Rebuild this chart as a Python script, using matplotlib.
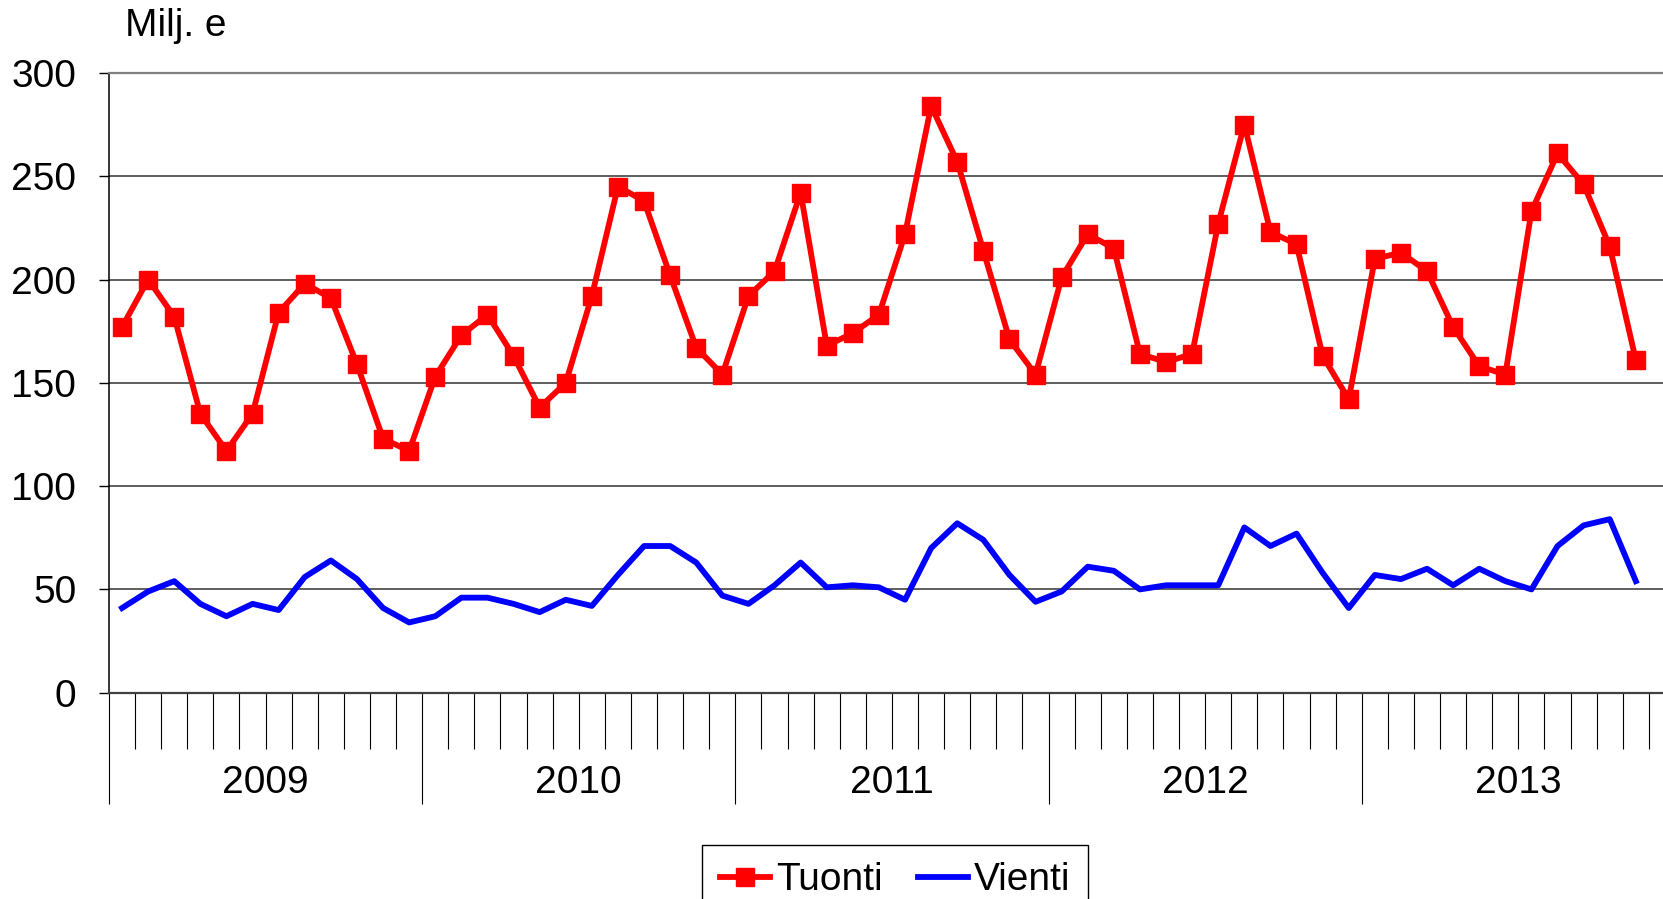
"""Monthly imports (Tuonti) and exports (Vienti), 2009-2013, million euros."""

import numpy as np
import matplotlib.pyplot as plt

years = ["2009", "2010", "2011", "2012", "2013"]

# Jan 2009 .. Nov 2013
tuonti = [
    177, 200, 182, 135, 117, 135, 184, 198, 191, 159, 123, 117,
    153, 173, 183, 163, 138, 150, 192, 245, 238, 202, 167, 154,
    192, 204, 242, 168, 174, 183, 222, 284, 257, 214, 171, 154,
    201, 222, 215, 164, 160, 164, 227, 275, 223, 217, 163, 142,
    210, 213, 204, 177, 158, 154, 233, 261, 246, 216, 161,
]
vienti = [
    41, 49, 54, 43, 37, 43, 40, 56, 64, 55, 41, 34,
    37, 46, 46, 43, 39, 45, 42, 57, 71, 71, 63, 47,
    43, 52, 63, 51, 52, 51, 45, 70, 82, 74, 57, 44,
    49, 61, 59, 50, 52, 52, 52, 80, 71, 77, 58, 41,
    57, 55, 60, 52, 60, 54, 50, 71, 81, 84, 54,
]

plt.rcParams["font.family"] = ["Liberation Sans", "DejaVu Sans"]
plt.rcParams["font.size"] = 28

W, H = 1663, 899
fig = plt.figure(figsize=(W / 100, H / 100), dpi=100)
# plot area runs past the right edge of the picture, as in the original
ax = fig.add_axes([109 / W, 1 - 692.7 / H, 1566 / W, 619.8 / H])

x = np.arange(len(tuonti)) + 0.5
ax.plot(x, tuonti, color="#ff0000", lw=4.2, marker="s", ms=13, label="Tuonti")
ax.plot(x, vienti, color="#0000ff", lw=4.2, label="Vienti")

n_months = 12 * len(years)
ax.set_xlim(0, n_months)
ax.set_ylim(0, 300)
ax.set_yticks(range(0, 301, 50))
ax.yaxis.grid(True, color="#333333", lw=1.1)
ax.set_axisbelow(True)

ax.set_xticks(range(0, n_months + 1, 12))
ax.set_xticks(range(0, n_months + 1), minor=True)
ax.set_xticklabels([])
ax.tick_params(axis="x", which="major", direction="out", length=80, width=0.8, color="black")
ax.tick_params(axis="x", which="minor", direction="out", length=40, width=0.8, color="black")
ax.tick_params(axis="y", direction="out", length=7.5, width=1, color="black", pad=16)

for k, yr in enumerate(years):
    ax.text(12 * k + 6, -0.1457, yr, transform=ax.get_xaxis_transform(),
            ha="center", va="center")

ax.spines["left"].set_color("black")
ax.spines["left"].set_linewidth(1.1)
ax.spines["bottom"].set_color("#404040")
ax.spines["bottom"].set_linewidth(1.6)
ax.spines["top"].set_color("#808080")
ax.spines["top"].set_linewidth(1.6)
ax.spines["right"].set_visible(False)

fig.text(125 / W, 1 - 26 / H, "Milj. e", ha="left", va="center")

leg = fig.legend(loc="upper center", bbox_to_anchor=(895 / W, 1 - 845 / H), ncol=2,
                 frameon=True, fancybox=False, framealpha=1, edgecolor="black",
                 handlelength=1.3, handletextpad=0.15, columnspacing=0.9,
                 borderpad=0.45, borderaxespad=0, numpoints=1)
leg.get_frame().set_linewidth(1)

fig.savefig("out.png", dpi=100)
